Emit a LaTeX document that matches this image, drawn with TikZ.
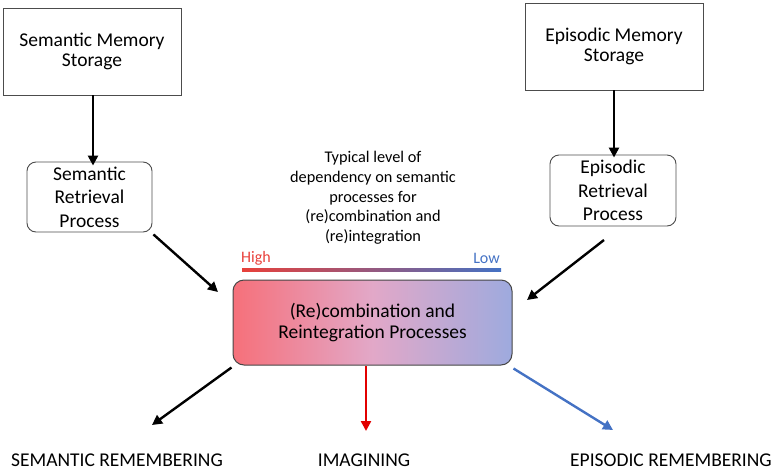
\documentclass[tikz,border=0pt]{standalone}
\usepackage{fontspec}
\setmainfont{Carlito}
\usetikzlibrary{arrows.meta}
\definecolor{hired}{RGB}{232,64,58}
\definecolor{lowblue}{RGB}{68,114,196}
\definecolor{imgred}{RGB}{226,0,0}
\definecolor{boxleft}{RGB}{246,112,122}
\definecolor{boxmid}{RGB}{226,168,200}
\definecolor{boxright}{RGB}{158,170,222}
\definecolor{edgegray}{RGB}{70,70,70}
\tikzset{
  storebox/.style={draw=black!70, line width=0.9pt, rectangle, align=center,
    font=\fontsize{19.5}{20.7}\selectfont, inner sep=0pt},
  procbox/.style={draw=black!70, line width=0.9pt, rectangle, rounded corners=9pt,
    align=center, font=\fontsize{19.5}{23.5}\selectfont, inner sep=0pt},
  outlabel/.style={font=\fontsize{19.5}{22}\selectfont, inner sep=0pt, anchor=base},
  flow/.style={line width=2.4pt, -{Triangle[length=10pt,width=10pt]}},
}
\begin{document}
\begin{tikzpicture}[x=1pt,y=-1pt]
\useasboundingbox (0,0) rectangle (774,472);

% memory stores
\node[storebox, minimum width=178pt, minimum height=87pt] (sms) at (92,51.5)
  {Semantic Memory\\Storage};
\node[storebox, minimum width=178pt, minimum height=87pt] (ems) at (614,46.5)
  {Episodic Memory\\Storage};

% retrieval processes
\node[procbox, minimum width=125pt, minimum height=70pt] (srp) at (89.5,197)
  {Semantic\\Retrieval\\Process};
\node[procbox, minimum width=126pt, minimum height=71pt] (erp) at (613,190.5)
  {Episodic\\Retrieval\\Process};

% central process with red-to-blue fill
\node[draw=edgegray, line width=1pt, rounded corners=11pt,
  left color=boxleft, right color=boxright, middle color=boxmid,
  minimum width=279pt, minimum height=85pt, align=center, inner sep=0pt,
  font=\fontsize{19.5}{21.7}\selectfont] (main) at (372.5,322.5)
  {(Re)combination and\\Reintegration Processes};

% dependency scale
\node[align=center, font=\fontsize{16.3}{19.7}\selectfont, inner sep=0pt] (note) at (373,198)
  {Typical level of\\dependency on semantic\\processes for\\(re)combination and\\(re)integration};
\node[anchor=west, text=hired, font=\fontsize{16}{18}\selectfont, inner sep=0pt] (high) at (241,258) {High};
\node[anchor=east, text=lowblue, font=\fontsize{16}{18}\selectfont, inner sep=0pt] (low) at (500,258) {Low};
\shade[left color=hired, right color=lowblue, middle color=hired!50!lowblue]
  (242,268.3) rectangle (501,271.7);

% outcome labels, set on a common baseline
\node[outlabel] (semrem) at (117,466) {SEMANTIC REMEMBERING};
\node[outlabel] (imag) at (364,466) {IMAGINING};
\node[outlabel] (epirem) at (671,466) {EPISODIC REMEMBERING};

% free ends of the diagonal connectors
\coordinate (tosem) at (218,292);
\coordinate (toepi) at (527,300);
\coordinate (fromepi) at (604,240);
\coordinate (semend) at (152,425);
\coordinate (imgstart) at (366,366);
\coordinate (imgend) at (366,431);
\coordinate (epiend) at (613,430);

% connectors
\draw[flow] (sms.south -| 93,0) -- ([yshift=-4pt]srp.north -| 93,0);
\draw[flow] (ems.south) -- ([yshift=-3pt]erp.north -| ems.south);
\draw[flow] ([shift={(1,2)}]srp.south east) -- (tosem);
\draw[flow] (fromepi) -- (toepi);
\draw[flow] ([shift={(-1,2)}]main.south west) -- (semend);
\draw[flow, imgred] (imgstart) -- (imgend);
\draw[flow, lowblue] ([shift={(1,3)}]main.south east) -- (epiend);
\end{tikzpicture}
\end{document}
